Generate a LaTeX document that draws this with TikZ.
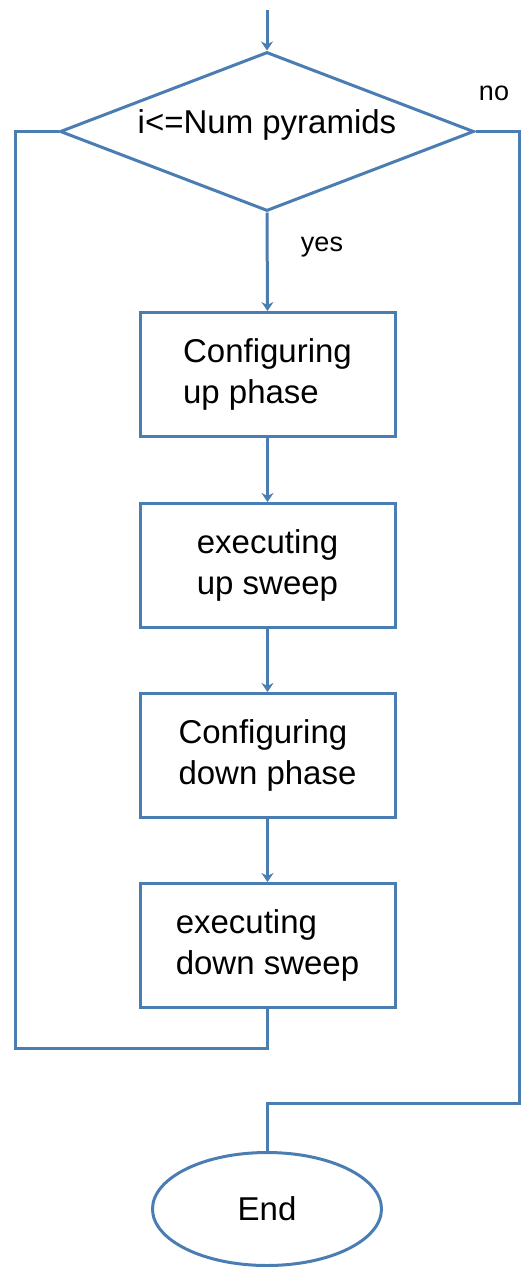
\documentclass[tikz,border=0pt]{standalone}
\usepackage{fontspec}
\setmainfont{Liberation Sans}
\usetikzlibrary{arrows.meta, shapes.geometric}

\definecolor{flowblue}{RGB}{74,125,178}
\tikzset{
    flow/.style={draw=flowblue, line width=3pt},
    stepbox/.style={flow, rectangle, minimum width=255pt, minimum height=124pt, align=left, inner sep=0pt},
    arr/.style={flow, -{Stealth[length=9pt, width=12pt, inset=3pt]}},
    lbl/.style={anchor=base, font=\fontsize{27}{30}\selectfont}
}

\begin{document}
\begin{tikzpicture}[x=1pt, y=-1pt, font=\fontsize{33}{41}\selectfont]
            \useasboundingbox (0,0) rectangle (521,1267);
            \coordinate (in) at (267,10);
            \node[flow, diamond, aspect=2.6, minimum width=414pt, minimum height=159pt, inner sep=0pt, text height=10pt] (cond) at (267,131.5) {i<=Num pyramids};
            \node[stepbox] (cup) at (267.5,374.5) {Configuring\\up phase};
            \node[stepbox] (eup) at (267.5,565.5) {executing\\up sweep};
            \node[stepbox] (cdown) at (267.5,755.5) {Configuring\\down phase};
            \node[stepbox] (edown) at (267.5,945.5) {executing\\down sweep};
            \node[flow, ellipse, minimum width=229pt, minimum height=113pt] (fin) at (267,1209) {End};
            \node[lbl] (yes) at (322,251) {yes};
            \node[lbl] (no) at (494,100) {no};
            \coordinate (loopl) at (15,1048);
            \coordinate (noR) at (519,1103);
            \draw[arr] (in) -- (cond.north);
            \draw[arr] (cond.south) -- (cup.north);
            \draw[arr] (cup) -- (eup);
            \draw[arr] (eup) -- (cdown);
            \draw[arr] (cdown) -- (edown);
            \draw[flow] (edown.south) |- (loopl) |- (cond.west);
            \draw[flow] (cond.east) -| (noR) -| (fin.north);
        \end{tikzpicture}
\end{document}
